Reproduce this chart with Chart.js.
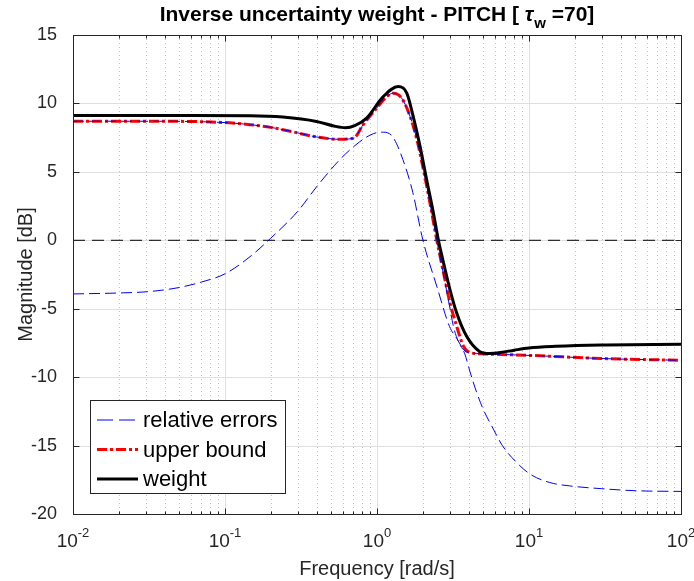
<!DOCTYPE html>
<html>
<head>
<meta charset="utf-8">
<script src="https://cdn.jsdelivr.net/npm/chart.js@4.4.1/dist/chart.umd.min.js"></script>
<style>
  html, body { margin: 0; padding: 0; background: #fff; }
  #wrap { width: 694px; height: 581px; }
</style>
</head>
<body>
<div id="wrap"><canvas id="c"></canvas></div>
<script>
const FONT = '"Liberation Sans", Arial, Helvetica, sans-serif'

// text
const titleHead = 'Inverse uncertainty weight - PITCH [ '
const titleTau = 'τ'
const titleSub = 'w'
const titleTail = ' =70]'
const xLabel = 'Frequency [rad/s]'
const yLabel = 'Magnitude [dB]'
const legendNames = ['relative errors', 'upper bound', 'weight']

// axes
const xDecades = [-2, -1, 0, 1, 2]
const yTicks = [-20, -15, -10, -5, 0, 5, 10, 15]

// relative errors (two curves, same style)
const relFreqA = [0.01, 0.02, 0.0316, 0.05, 0.07, 0.1, 0.146, 0.2, 0.3, 0.4, 0.57, 0.77, 0.95, 1.1, 1.27, 1.48, 1.72, 2.0, 2.48, 3.0, 3.4, 3.78, 4.09, 4.52, 5.0, 5.83, 6.68, 8.23, 10.2, 13.7, 18.6, 30, 50, 100]
const relMagA = [-3.92, -3.85, -3.75, -3.45, -3.05, -2.45, -1.2, 0.15, 2.1, 3.9, 5.9, 7.2, 7.8, 7.9, 7.55, 5.9, 3.5, 0.05, -3.4, -6.3, -7.3, -8.3, -9.6, -11.1, -12.35, -13.8, -15.0, -16.2, -17.1, -17.7, -17.95, -18.15, -18.3, -18.35]
const relFreqB = [0.01, 0.03, 0.1, 0.146, 0.2, 0.3, 0.4, 0.57, 0.7, 0.81, 0.995, 1.16, 1.28, 1.45, 1.65, 1.83, 2.02, 2.23, 2.47, 2.74, 3.0, 3.2, 3.5, 3.8, 4.1, 5.0, 6.43, 10, 32.5, 100]
const relMagB = [8.7, 8.7, 8.6, 8.45, 8.25, 7.85, 7.55, 7.38, 7.45, 8.44, 9.66, 10.5, 10.75, 10.4, 9.05, 7.35, 5.16, 2.73, 0.05, -2.5, -4.8, -6.4, -7.6, -8.1, -8.2, -8.3, -8.34, -8.41, -8.65, -8.77]

// upper bound
const boundFreq = [0.01, 0.03, 0.1, 0.146, 0.2, 0.3, 0.4, 0.57, 0.7, 0.81, 0.995, 1.16, 1.28, 1.45, 1.65, 1.83, 2.02, 2.23, 2.47, 2.74, 3.02, 3.34, 3.7, 4.1, 5.0, 6.43, 10, 32.5, 100]
const boundMag = [8.7, 8.7, 8.6, 8.45, 8.25, 7.85, 7.55, 7.38, 7.45, 8.44, 9.66, 10.5, 10.75, 10.4, 9.05, 7.35, 5.16, 2.73, 0.05, -2.38, -4.57, -6.27, -7.73, -8.21, -8.3, -8.34, -8.41, -8.65, -8.77]

// weight
const weightFreq = [0.01, 0.05, 0.146, 0.24, 0.4, 0.52, 0.62, 0.72, 0.855, 1.1, 1.38, 1.57, 1.73, 1.92, 2.12, 2.35, 2.53, 2.74, 3.02, 3.34, 3.88, 4.7, 5.5, 6.5, 8.0, 10, 15, 30, 100]
const weightMag = [9.12, 9.12, 9.1, 9.0, 8.68, 8.35, 8.22, 8.4, 8.93, 10.5, 11.23, 10.75, 9.05, 6.86, 4.43, 2.0, 0.05, -1.65, -3.6, -5.3, -7.0, -8.1, -8.27, -8.2, -8.03, -7.87, -7.75, -7.65, -7.6]

// 0 dB reference
const zeroFreq = [0.01, 100]
const zeroMag = [0, 0]

const pts = (xs, ys) => xs.map((x, i) => ({ x, y: ys[i] }))

const BLUE = '#0000ff', RED = '#ff0000', BLACK = '#000000', AX = '#262626'
const relDash = [11, 5]
const boundDash = [10, 3, 3, 3]

const line = (label, data, color, width, dash) => ({
  label, data, borderColor: color, borderWidth: width, borderDash: dash,
  pointRadius: 0, fill: false, cubicInterpolationMode: 'monotone', borderCapStyle: 'butt'
})

// grid, box, inward ticks, x tick labels, title, legend
const frame = {
  id: 'frame',
  beforeDatasetsDraw(chart) {
    const { ctx, chartArea: a, scales: { x, y } } = chart
    ctx.save()
    ctx.lineWidth = 1
    ctx.strokeStyle = 'rgba(38,38,38,0.28)'
    ctx.setLineDash([1, 3])
    for (const d of xDecades.slice(0, -1)) {
      for (let m = 2; m <= 9; m++) {
        const px = Math.round(x.getPixelForValue(m * Math.pow(10, d))) + 0.5
        ctx.beginPath(); ctx.moveTo(px, a.top); ctx.lineTo(px, a.bottom); ctx.stroke()
      }
    }
    ctx.setLineDash([])
    ctx.strokeStyle = '#dfdfdf'
    for (const d of xDecades) {
      const px = Math.round(x.getPixelForValue(Math.pow(10, d))) + 0.5
      ctx.beginPath(); ctx.moveTo(px, a.top); ctx.lineTo(px, a.bottom); ctx.stroke()
    }
    for (const v of yTicks) {
      const py = Math.round(y.getPixelForValue(v)) + 0.5
      ctx.beginPath(); ctx.moveTo(a.left, py); ctx.lineTo(a.right, py); ctx.stroke()
    }
    ctx.restore()
  },
  afterDraw(chart) {
    const { ctx, chartArea: a, scales: { x, y } } = chart
    ctx.save()
    const L = Math.round(a.left) + 0.5, R = Math.round(a.right) + 0.5
    const T = Math.round(a.top) + 0.5, B = Math.round(a.bottom) + 0.5
    ctx.strokeStyle = AX
    ctx.lineWidth = 1
    ctx.strokeRect(L, T, R - L, B - T)

    // ticks pointing inward
    ctx.beginPath()
    for (const d of xDecades) {
      for (let m = 1; m <= 9; m++) {
        if (d === xDecades[xDecades.length - 1] && m > 1) break
        const px = Math.round(x.getPixelForValue(m * Math.pow(10, d))) + 0.5
        const len = m === 1 ? 6 : 3
        ctx.moveTo(px, B); ctx.lineTo(px, B - len)
        ctx.moveTo(px, T); ctx.lineTo(px, T + len)
      }
    }
    for (const v of yTicks) {
      const py = Math.round(y.getPixelForValue(v)) + 0.5
      ctx.moveTo(L, py); ctx.lineTo(L + 6, py)
      ctx.moveTo(R, py); ctx.lineTo(R - 6, py)
    }
    ctx.stroke()

    // x tick labels 10^n
    ctx.fillStyle = AX
    ctx.textBaseline = 'alphabetic'
    ctx.textAlign = 'left'
    for (const d of xDecades) {
      const px = x.getPixelForValue(Math.pow(10, d))
      ctx.font = '19px ' + FONT
      const wb = ctx.measureText('10').width
      ctx.font = '13px ' + FONT
      const e = String(d)
      const we = ctx.measureText(e).width
      const x0 = px - (wb + we) / 2
      ctx.font = '19px ' + FONT
      ctx.fillText('10', x0, 547)
      ctx.font = '13px ' + FONT
      ctx.fillText(e, x0 + wb, 537)
    }

    // title with subscript
    ctx.fillStyle = BLACK
    const fBig = 'bold 21px ' + FONT, fSub = 'bold 15px ' + FONT
    ctx.font = fBig
    const w1 = ctx.measureText(titleHead).width
    const w2 = ctx.measureText(titleTau).width
    const w4 = ctx.measureText(titleTail).width
    ctx.font = fSub
    const w3 = ctx.measureText(titleSub).width
    let tx = (a.left + a.right) / 2 - (w1 + w2 + w3 + w4) / 2
    ctx.font = fBig
    ctx.fillText(titleHead, tx, 21); tx += w1
    ctx.font = 'italic bold 21px ' + FONT
    ctx.fillText(titleTau, tx, 21); tx += w2
    ctx.font = fSub
    ctx.fillText(titleSub, tx, 28); tx += w3
    ctx.font = fBig
    ctx.fillText(titleTail, tx, 21)

    // legend
    const lx = 90.5, ly = 400.5, lw = 195, lh = 93
    ctx.fillStyle = '#ffffff'
    ctx.fillRect(lx, ly, lw, lh)
    ctx.strokeStyle = AX
    ctx.lineWidth = 1
    ctx.strokeRect(lx, ly, lw, lh)
    const rows = [
      { name: legendNames[0], color: BLUE, width: 1, dash: [16, 6] },
      { name: legendNames[1], color: RED, width: 3, dash: boundDash },
      { name: legendNames[2], color: BLACK, width: 3, dash: [] }
    ]
    rows.forEach((r, i) => {
      const ry = 420 + i * 29.5
      ctx.beginPath()
      ctx.strokeStyle = r.color
      ctx.lineWidth = r.width
      ctx.setLineDash(r.dash)
      ctx.moveTo(97, ry); ctx.lineTo(138, ry)
      ctx.stroke()
      ctx.setLineDash([])
      ctx.fillStyle = BLACK
      ctx.font = '22px ' + FONT
      ctx.textBaseline = 'middle'
      ctx.fillText(r.name, 143, ry + 1)
    })
    ctx.restore()
  }
}

new Chart(document.getElementById('c'), {
  type: 'line',
  data: {
    datasets: [
      line('weight', pts(weightFreq, weightMag), BLACK, 3, []),
      line('relative errors', pts(relFreqA, relMagA), BLUE, 1, relDash),
      line('relative errors', pts(relFreqB, relMagB), BLUE, 1, relDash),
      line('upper bound', pts(boundFreq, boundMag), RED, 3, boundDash),
      line('zero', pts(zeroFreq, zeroMag), BLACK, 1, [12, 7])
    ]
  },
  options: {
    responsive: true,
    maintainAspectRatio: false,
    animation: false,
    events: [],
    layout: { padding: { top: 35, right: 13, left: 0, bottom: 0 } },
    plugins: { legend: { display: false }, tooltip: { enabled: false }, title: { display: false } },
    scales: {
      x: {
        type: 'logarithmic',
        min: 0.01,
        max: 100,
        grid: { display: false },
        border: { display: false },
        ticks: { display: false, autoSkip: false },
        title: { display: true, text: xLabel, color: AX, font: { family: FONT, size: 20 }, padding: { top: 0, bottom: 0 } },
        afterFit: s => { s.height = 67 }
      },
      y: {
        min: -20,
        max: 15,
        grid: { display: false },
        border: { display: false },
        ticks: { stepSize: 5, color: AX, padding: 8, font: { family: FONT, size: 18 } },
        title: { display: true, text: yLabel, color: AX, font: { family: FONT, size: 20 }, padding: { top: 14, bottom: 0 } },
        afterFit: s => { s.width = 73 }
      }
    }
  },
  plugins: [frame]
})
</script>
</body>
</html>
